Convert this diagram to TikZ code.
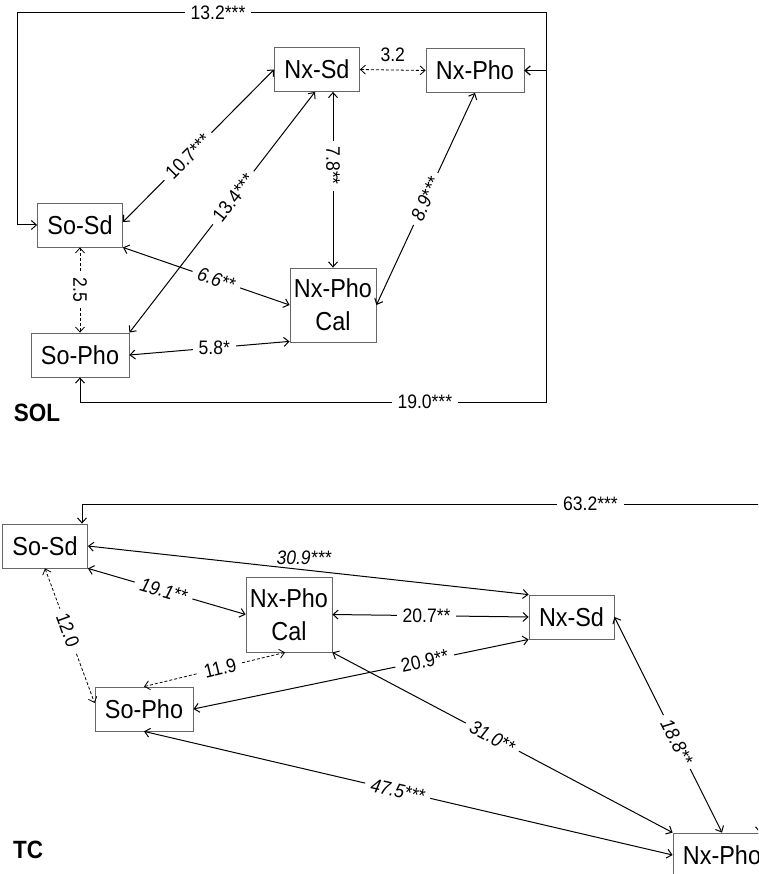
\documentclass[tikz,border=0pt]{standalone}
\usepackage{fontspec}
\setmainfont{Liberation Sans}[FakeStretch=0.9]
\usetikzlibrary{arrows.meta}

\begin{document}
\begin{tikzpicture}[
    x=1pt, y=-1pt,
    >={Straight Barb[length=5pt, width=9pt]},
    box/.style={
        draw=black!60, rectangle, line width=0.8pt, align=center,
        inner xsep=10pt, inner ysep=0pt, minimum height=44pt,
        font=\fontsize{26}{33}\selectfont
    },
    arr/.style={<->, line width=1pt},
    dsh/.style={<->, line width=0.8pt, dash pattern=on 3pt off 2pt},
    lbl/.style={fill=white, inner xsep=6pt, inner ysep=1pt, font=\fontsize{19.5}{22}\selectfont},
    ital/.style={lbl, font=\fontsize{19.5}{22}\selectfont\itshape},
    panel/.style={font=\fontsize{25}{28}\selectfont\bfseries},
]
\useasboundingbox (0,0) rectangle (758,874);
\clip (0,0) rectangle (758,874);

% SOL
\node[box] (sosd) at (80,225) {So-Sd};
\node[box] (sopho) at (80,355) {So-Pho};
\node[box] (nsd) at (317,69.5) {Nx-Sd};
\node[box] (npho) at (475,70.5) {Nx-Pho};
\node[box, inner xsep=4pt, minimum height=74pt] (npc) at (333,305) {Nx-Pho\\Cal};
\node[panel] (sol) at (37,413) {SOL};

\coordinate (tl) at (17,13);
\coordinate (tr) at (546,13);
\coordinate (br) at (546,402);

\draw[arr] (sosd.west) -| (tl) -- node[lbl, pos=.38]{13.2***} (tr) |- (npho.east);
\draw[arr] (sopho.south) |- node[lbl, pos=.87]{19.0***} (br) |- (npho.east);

\draw[arr] ([yshift=3pt]sosd.east) -- node[lbl, pos=.43, rotate=45]{10.7***} (nsd.west);
\draw[arr] (sopho.north east) -- node[lbl, pos=.56, rotate=52]{13.4***} ([xshift=-2pt]nsd.south);
\draw[arr] ([xshift=16pt]nsd.south) -- node[lbl, pos=.42, rotate=-90]{7.8**} (npc.north);
\draw[dsh] (nsd.east) -- node[lbl, above=7pt, inner xsep=1pt]{3.2} (npho.west);
\draw[arr] (npc.east) -- node[ital, pos=.5, rotate=65]{8.9***} (npho.south);
\draw[arr] (sosd.south east) -- node[ital, pos=.56, rotate=-19]{6.6**} (npc.west);
\draw[dsh] (sosd.south) -- node[lbl, midway, rotate=-90]{2.5} (sopho.north);
\draw[arr] (sopho.east) -- node[lbl, pos=.53]{5.8*} ([yshift=1pt]npc.south west);

% TC
\node[box] (tsosd) at (45,546) {So-Sd};
\node[box, inner xsep=4pt, minimum height=75pt] (tnpc) at (289,614.5) {Nx-Pho\\Cal};
\node[box] (tnsd) at (571.5,617) {Nx-Sd};
\node[box] (tsopho) at (144,709) {So-Pho};
\node[box] (tnpho) at (722,855) {Nx-Pho};
\node[panel] (tc) at (28,850) {TC};

\coordinate (tl2) at (82,504);
\coordinate (tr2) at (760,504);

\draw[arr] ([xshift=37pt]tsosd.north) -- (tl2) -- node[lbl, pos=.75]{63.2***} (tr2) -- ([xshift=38pt]tnpho.north);
\draw[arr] (tsosd.east) -- node[ital, pos=.49, above=4pt, fill=none]{30.9***} (tnsd.north west);
\draw[arr] (tsosd.south east) -- node[ital, pos=.48, rotate=-16]{19.1**} (tnpc.west);
\draw[arr] (tnpc.east) -- node[lbl, pos=.48]{20.7**} (tnsd.west);
\draw[arr] (tsopho.east) -- node[lbl, pos=.69, rotate=12]{20.9**} (tnsd.south west);
\draw[dsh] ([xshift=-4pt]tnpc.south) -- node[lbl, pos=.46, rotate=14]{11.9} (tsopho.north);
\draw[dsh] (tsosd.south) -- node[lbl, pos=.46, rotate=-70]{12.0} ([yshift=6pt]tsopho.west);
\draw[arr] (tnpc.south east) -- node[ital, pos=.47, rotate=-28]{31.0**} (tnpho.north west);
\draw[arr] (tnsd.east) -- node[ital, pos=.58, rotate=-63]{18.8**} (tnpho.north);
\draw[arr] (tsopho.south) -- node[ital, pos=.48, rotate=-13]{47.5***} (tnpho.west);

\end{tikzpicture}
\end{document}
